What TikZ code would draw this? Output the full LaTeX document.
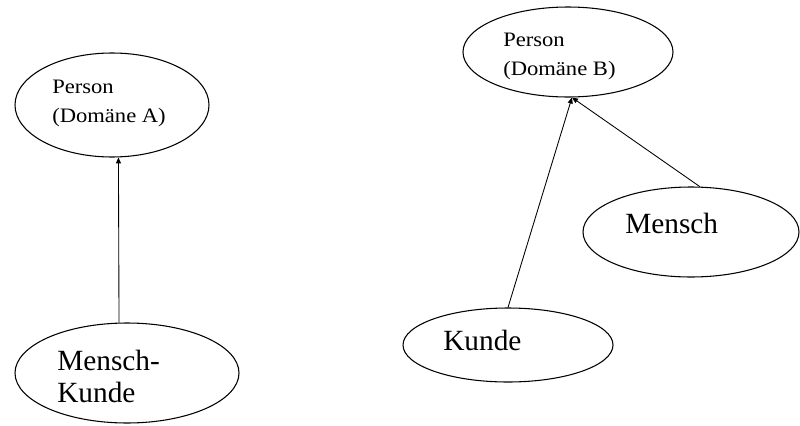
\documentclass[tikz,border=0pt]{standalone}
\usepackage{fontspec}
\setmainfont{Liberation Serif}
\newfontfamily\labelfont[FakeStretch=1.1]{Liberation Serif}
\usepackage{tikz}
\usetikzlibrary{shapes.geometric,arrows.meta,positioning}
\tikzset{bubble/.style={draw, ellipse, inner sep=0pt, line width=0.8pt},
	smalltext/.style={anchor=base west, inner sep=0pt, align=left,
		font=\labelfont\fontsize{15.4pt}{21.4pt}\selectfont},
	bigtext/.style={anchor=base west, inner sep=0pt, align=left,
		font=\fontsize{22pt}{24pt}\selectfont},
	arrow/.style={draw, line width=0.65pt, -{Triangle[length=4.5pt,width=3.8pt]}}}

\begin{document}
\begin{tikzpicture}[x=0.75pt,y=-0.75pt]
		\useasboundingbox (0,0) rectangle (800,425);
		% Domäne A
		\node [bubble, minimum width=145.5pt, minimum height=78pt] (personA) at (112,105) {};
		\node [smalltext] (personAtext) at (52,122) {Person\\(Domäne A)};
		\node [bubble, minimum width=168pt, minimum height=75pt] (menschkunde) at (127,373) {};
		\node [bigtext] (menschkundetext) at (57,402) {Mensch-\\Kunde};
		
		% Domäne B
		\node [bubble, minimum width=157.5pt, minimum height=67.5pt] (personB) at (568,52) {};
		\node [smalltext] (personBtext) at (503,75) {Person\\(Domäne B)};
		\node [bubble, minimum width=157.5pt, minimum height=55.5pt] (kunde) at (508,345) {};
		\node [bigtext] (kundetext) at (443,350) {Kunde};
		\node [bubble, minimum width=162pt, minimum height=67.5pt] (mensch) at (691,232) {};
		\node [bigtext] (menschtext) at (625,233) {Mensch};
		
		\draw [arrow] (menschkunde.99)--(personA.-83);
		\draw [arrow] (kunde.north)--(personB.-85);
		\draw [arrow] (mensch.79)--(personB.-85);
	\end{tikzpicture}
\end{document}
